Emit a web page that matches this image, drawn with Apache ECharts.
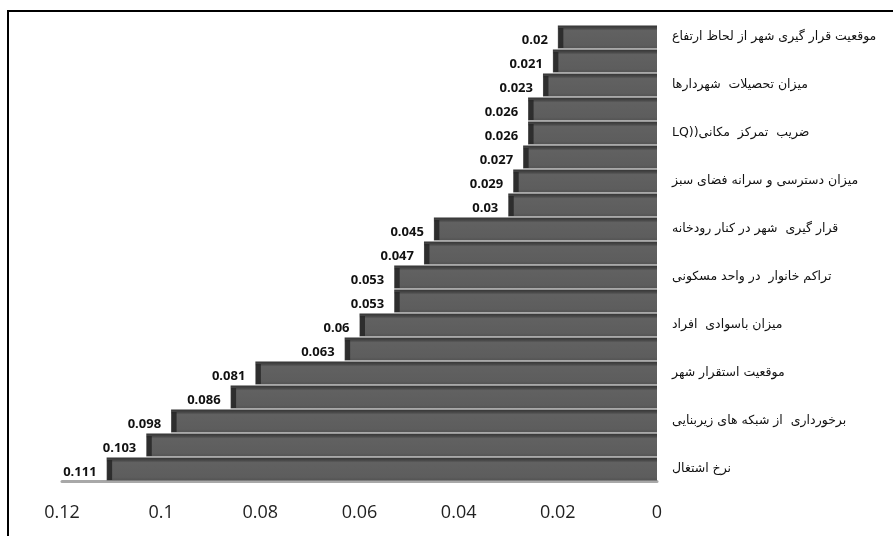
<!DOCTYPE html>
<html>
<head>
<meta charset="utf-8">
<script src="https://cdn.jsdelivr.net/npm/echarts@6/dist/echarts.min.js"></script>
<style>html,body{margin:0;padding:0;background:#fff}#c{width:893px;height:536px}</style>
</head>
<body>
<div id="c"></div>
<script>
// Categories top to bottom (only every other one is labelled in the source)
const categories = [
  'موقعیت قرار گیری شهر از لحاظ ارتفاع', '',
  'میزان تحصیلات  شهردارها', '',
  'LQ))ضریب  تمرکز  مکانی', '',
  'میزان دسترسی و سرانه فضای سبز', '',
  'قرار گیری  شهر در کنار رودخانه', '',
  'تراکم خانوار  در واحد مسکونی', '',
  'میزان باسوادی  افراد', '',
  'موقعیت استقرار شهر', '',
  'برخورداری  از شبکه های زیربنایی', '',
  'نرخ اشتغال'
];
const values = [0.02, 0.021, 0.023, 0.026, 0.026, 0.027, 0.029, 0.03, 0.045, 0.047,
                0.053, 0.053, 0.06, 0.063, 0.081, 0.086, 0.098, 0.103, 0.111];
const xTicks = [0, 0.02, 0.04, 0.06, 0.08, 0.1, 0.12];

const chart = echarts.init(document.getElementById('c'));
chart.setOption({
  animation: false,
  backgroundColor: '#fff',
  graphic: [{
    type: 'rect', z: -1, silent: true,
    shape: { x: 8, y: 11, width: 1000, height: 700 },
    style: { fill: 'none', stroke: '#000', lineWidth: 2 }
  }],
  grid: { left: 62, right: 236, top: 25, bottom: 55 },
  xAxis: {
    type: 'value', inverse: true,
    min: xTicks[0], max: xTicks[xTicks.length - 1], interval: 0.02,
    axisLine: { show: true, lineStyle: { color: '#a8a8a8', width: 3 } },
    axisTick: { show: false },
    splitLine: { show: false },
    axisLabel: {
      margin: 23, fontSize: 18, color: '#222', fontFamily: 'Open Sans',
      formatter: v => String(parseFloat(v.toFixed(2)))
    }
  },
  yAxis: {
    type: 'category', inverse: true, position: 'right',
    data: categories,
    axisLine: { show: false }, axisTick: { show: false },
    axisLabel: {
      interval: 1, margin: 15, fontSize: 12.5, color: '#111',
      fontFamily: 'DejaVu Sans', padding: [8, 0, 0, 0]
    }
  },
  series: [{
    type: 'bar',
    data: values,
    barCategoryGap: '4%',
    itemStyle: {
      color: new echarts.graphic.LinearGradient(0, 0, 0, 1, [
        { offset: 0, color: '#343434' },
        { offset: 0.12, color: '#474747' },
        { offset: 0.22, color: '#616161' },
        { offset: 0.85, color: '#5d5d5d' },
        { offset: 1, color: '#535353' }
      ])
    },
    label: {
      show: true, position: 'left', distance: 10, offset: [0, 3],
      fontSize: 13, fontWeight: 'bold', color: '#111', fontFamily: 'Open Sans',
      formatter: p => String(p.value)
    }
  }, {
    type: 'scatter',
    data: values.map((v, i) => [v, i]),
    symbol: 'rect',
    symbolSize: [5, 20],
    symbolOffset: [3, 1],
    itemStyle: { color: '#222' },
    z: 3,
    silent: true
  }]
});
</script>
</body>
</html>
